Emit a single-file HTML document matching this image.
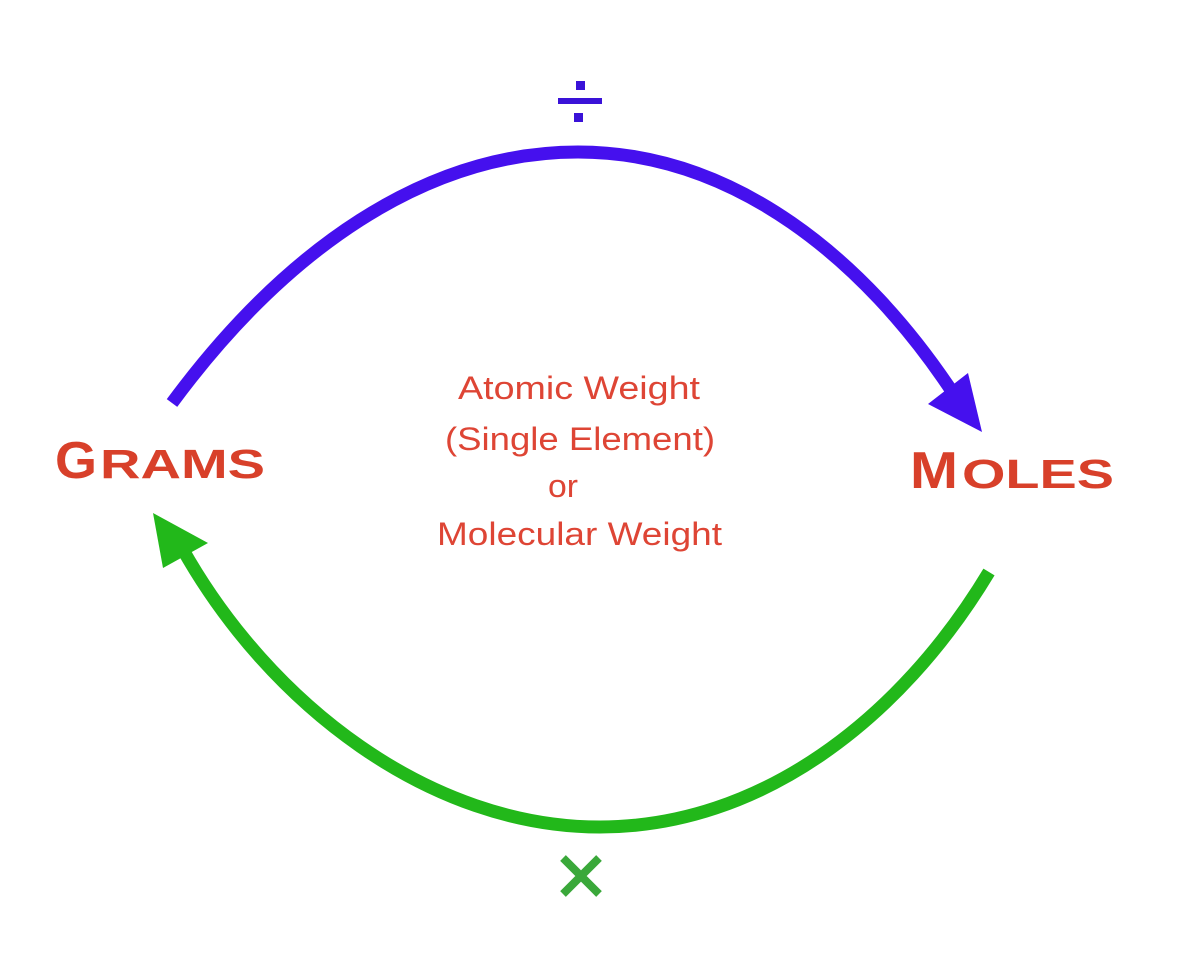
<!DOCTYPE html>
<html><head><meta charset="utf-8"><style>
html,body{margin:0;padding:0;background:#fff;}
svg{display:block;}
</style></head><body>
<svg width="1200" height="958" viewBox="0 0 1200 958" xmlns="http://www.w3.org/2000/svg">
<rect width="1200" height="958" fill="#fff"/>
<!-- divide sign -->
<rect x="576" y="81" width="9" height="9" fill="#3a12d8"/>
<rect x="558" y="98" width="44" height="6" fill="#3a12d8"/>
<rect x="574" y="113" width="9" height="9" fill="#3a12d8"/>
<!-- blue arc -->
<path d="M172,403 C 285,250 425,152 578,152 C 735,152 865,260 953,393" fill="none" stroke="#4510ee" stroke-width="13"/>
<polygon points="928,404 968,373 982,432" fill="#4510ee"/>
<!-- green arc -->
<path d="M989,572 C 900,720 760,827 600,827 C 430,827 270,705 182,548" fill="none" stroke="#22b81a" stroke-width="13"/>
<polygon points="153,513 208,543 163,568" fill="#22b81a"/>
<!-- times sign -->
<path d="M563,858 L599,894 M599,858 L563,894" stroke="#3aa83a" stroke-width="8" fill="none"/>
<!-- labels -->
<g font-family="Liberation Sans, sans-serif" font-weight="bold" fill="#d8402a">
<text x="55" y="478" font-size="52" textLength="42" lengthAdjust="spacingAndGlyphs">G</text>
<text x="100" y="478" font-size="41" textLength="165" lengthAdjust="spacingAndGlyphs">RAMS</text>
<text x="910" y="488" font-size="52" textLength="48" lengthAdjust="spacingAndGlyphs">M</text>
<text x="962" y="488" font-size="41" textLength="152" lengthAdjust="spacingAndGlyphs">OLES</text>
</g>
<g font-family="Liberation Sans, sans-serif" font-size="32" fill="#de4535">
<text x="458" y="399" textLength="242" lengthAdjust="spacingAndGlyphs">Atomic Weight</text>
<text x="445" y="450" textLength="270" lengthAdjust="spacingAndGlyphs">(Single Element)</text>
<text x="548" y="497" textLength="30" lengthAdjust="spacingAndGlyphs">or</text>
<text x="437" y="545" textLength="285" lengthAdjust="spacingAndGlyphs">Molecular Weight</text>
</g>
</svg>
</body></html>
